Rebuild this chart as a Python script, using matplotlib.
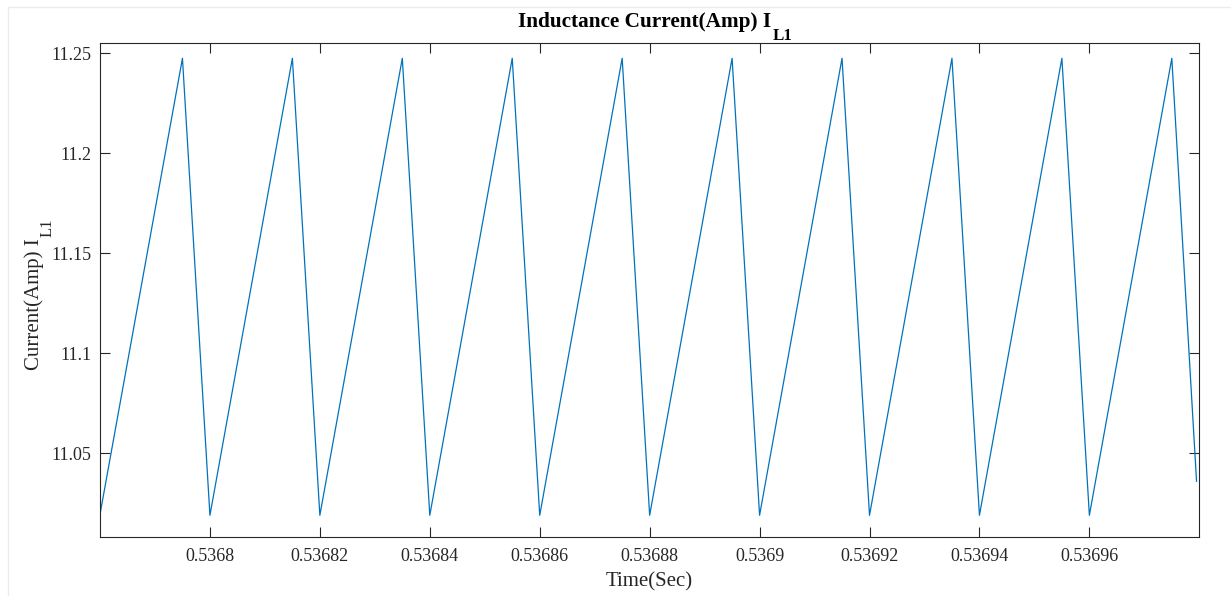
import matplotlib
matplotlib.use("Agg")
import matplotlib.pyplot as plt
from matplotlib.lines import Line2D

# ---- data ----
time_s = [0.53678, 0.536795, 0.53680, 0.536815, 0.53682, 0.536835, 0.53684,
          0.536855, 0.53686, 0.536875, 0.53688, 0.536895, 0.53690, 0.536915,
          0.53692, 0.536935, 0.53694, 0.536955, 0.53696, 0.536975, 0.5369795]
current_a = [11.0195, 11.2475, 11.0190, 11.2475, 11.0190, 11.2475, 11.0190,
             11.2475, 11.0190, 11.2475, 11.0190, 11.2475, 11.0190, 11.2475,
             11.0190, 11.2475, 11.0190, 11.2475, 11.0190, 11.2475, 11.036]

xticks = [0.5368, 0.53682, 0.53684, 0.53686, 0.53688, 0.5369, 0.53692, 0.53694, 0.53696]
xticklabels = ["0.5368", "0.53682", "0.53684", "0.53686", "0.53688", "0.5369",
               "0.53692", "0.53694", "0.53696"]
yticks = [11.05, 11.1, 11.15, 11.2, 11.25]
yticklabels = ["11.05", "11.1", "11.15", "11.2", "11.25"]

title_main, title_sub = "Inductance Current(Amp) I", "L1"
xlabel = "Time(Sec)"
ylabel_main, ylabel_sub = "Current(Amp) I", "L1"

# ---- style ----
plt.rcParams['font.family'] = ['Liberation Serif', 'DejaVu Serif']

W, H = 1231, 596
axc = '#262626'
fig = plt.figure(figsize=(W / 100, H / 100), dpi=100)
ax = fig.add_axes([100 / W, 1 - 536.7 / H, 1099.3 / W, 493.4 / H])

ax.plot(time_s, current_a, color='#0072BD', linewidth=0.9)

ax.set_xlim(0.53678, 0.53698)
ax.set_ylim(11.0083, 11.255)
ax.set_xticks(xticks)
ax.set_xticklabels(xticklabels)
ax.set_yticks(yticks)
ax.set_yticklabels(yticklabels)

ax.tick_params(direction='in', length=7, width=0.8, colors=axc, labelsize=13,
               top=True, right=True, pad=6)
ax.tick_params(axis='x', pad=8)
for s in ax.spines.values():
    s.set_color(axc)
    s.set_linewidth(0.8)

ax.set_xlabel(xlabel, fontsize=15, color=axc, labelpad=5)

renderer = fig.canvas.get_renderer()

# ---- title with MATLAB-like subscript ----
tkw = dict(fontsize=15.3, fontweight='bold', color='black', rotation_mode='anchor',
           ha='left', va='baseline')
t1 = fig.text(0, 0, title_main, **tkw)
t2 = fig.text(0, 0, title_sub, **dict(tkw, fontsize=12.2))
w1 = t1.get_window_extent(renderer).width
w2 = t2.get_window_extent(renderer).width
cx = 655.0
base_y = H - 26.7
x0 = cx - (w1 + w2) / 2
t1.set_position((x0 / W, base_y / H))
t2.set_position(((x0 + w1 + 1) / W, (base_y - 13) / H))

# ---- y label with subscript (rotated) ----
ykw = dict(fontsize=15, color=axc, rotation=90, rotation_mode='anchor',
           ha='left', va='baseline')
y1 = fig.text(0, 0, ylabel_main, **ykw)
y2 = fig.text(0, 0, ylabel_sub, **dict(ykw, fontsize=12))
h1 = y1.get_window_extent(renderer).height
h2 = y2.get_window_extent(renderer).height
cy = H - 295.0
bx = 39.0
y0 = cy - (h1 + h2) / 2
y1.set_position((bx / W, y0 / H))
y2.set_position(((bx + 13) / W, (y0 + h1 + 1) / H))

# light figure frame as in the reference screenshot
fig.add_artist(Line2D([8 / W, 8 / W], [0, 1 - 6.7 / H], transform=fig.transFigure,
                      color='#ececec', linewidth=1))
fig.add_artist(Line2D([8 / W, 1], [1 - 6.7 / H, 1 - 6.7 / H], transform=fig.transFigure,
                      color='#ececec', linewidth=1))

fig.savefig('out.png', dpi=100)
